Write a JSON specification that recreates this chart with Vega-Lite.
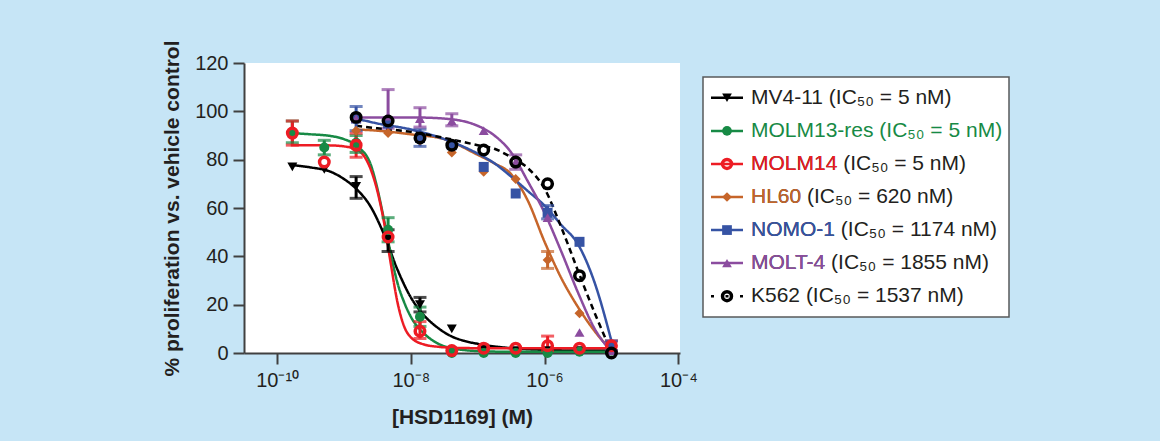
{
  "$schema": "https://vega.github.io/schema/vega-lite/v6.json",
  "background": "#c6e5f6",
  "padding": {"left": 161, "top": 39, "right": 200, "bottom": 40},
  "config": {
    "font": "Liberation Sans",
    "view": {"stroke": null},
    "axis": {"grid": false, "domainColor": "#404040", "domainWidth": 2, "tickColor": "#404040", "tickWidth": 2, "tickSize": 11, "labelFontSize": 20, "labelColor": "#231f20", "titleFontSize": 21, "titleFontWeight": "bold", "titleColor": "#231f20", "labelFont": "Liberation Sans", "titleFont": "Liberation Sans"}
  },
  "datasets": {
    "pts": [
      {"line": "MV4-11", "c": 1.69e-10, "v": 77},
      {"line": "MV4-11", "c": 5.08e-10, "v": 76},
      {"line": "MV4-11", "c": 1.52e-9, "v": 69, "lo": 64, "hi": 73},
      {"line": "MV4-11", "c": 4.57e-9, "v": 47, "lo": 42, "hi": 51},
      {"line": "MV4-11", "c": 1.37e-8, "v": 20, "lo": 17, "hi": 23},
      {"line": "MV4-11", "c": 4.1e-8, "v": 10},
      {"line": "MV4-11", "c": 1.23e-7, "v": 2},
      {"line": "MV4-11", "c": 3.7e-7, "v": 1},
      {"line": "MV4-11", "c": 1.11e-6, "v": 1},
      {"line": "MV4-11", "c": 3.33e-6, "v": 1},
      {"line": "MV4-11", "c": 1e-5, "v": 1},
      {"line": "MOLM13-res", "c": 1.69e-10, "v": 91, "lo": 87, "hi": 96},
      {"line": "MOLM13-res", "c": 5.08e-10, "v": 85, "lo": 82, "hi": 88},
      {"line": "MOLM13-res", "c": 1.52e-9, "v": 87, "lo": 83, "hi": 90},
      {"line": "MOLM13-res", "c": 4.57e-9, "v": 51, "lo": 46, "hi": 56},
      {"line": "MOLM13-res", "c": 1.37e-8, "v": 15, "lo": 11, "hi": 19},
      {"line": "MOLM13-res", "c": 4.1e-8, "v": 0},
      {"line": "MOLM13-res", "c": 1.23e-7, "v": 0},
      {"line": "MOLM13-res", "c": 3.7e-7, "v": 0},
      {"line": "MOLM13-res", "c": 1.11e-6, "v": 0},
      {"line": "MOLM13-res", "c": 3.33e-6, "v": 0.5},
      {"line": "MOLM13-res", "c": 1e-5, "v": 1},
      {"line": "MOLM14", "c": 1.69e-10, "v": 91, "lo": 86, "hi": 96},
      {"line": "MOLM14", "c": 5.08e-10, "v": 79},
      {"line": "MOLM14", "c": 1.52e-9, "v": 86, "lo": 81, "hi": 91},
      {"line": "MOLM14", "c": 4.57e-9, "v": 48},
      {"line": "MOLM14", "c": 1.37e-8, "v": 9, "lo": 6, "hi": 13},
      {"line": "MOLM14", "c": 4.1e-8, "v": 1},
      {"line": "MOLM14", "c": 1.23e-7, "v": 2},
      {"line": "MOLM14", "c": 3.7e-7, "v": 2},
      {"line": "MOLM14", "c": 1.11e-6, "v": 3, "lo": 1, "hi": 7},
      {"line": "MOLM14", "c": 3.33e-6, "v": 2},
      {"line": "MOLM14", "c": 1e-5, "v": 3, "lo": 1, "hi": 5},
      {"line": "HL60", "c": 1.52e-9, "v": 92},
      {"line": "HL60", "c": 4.57e-9, "v": 91},
      {"line": "HL60", "c": 1.37e-8, "v": 88},
      {"line": "HL60", "c": 4.1e-8, "v": 83},
      {"line": "HL60", "c": 1.23e-7, "v": 75},
      {"line": "HL60", "c": 3.7e-7, "v": 72},
      {"line": "HL60", "c": 1.11e-6, "v": 38.5, "lo": 35, "hi": 42},
      {"line": "HL60", "c": 3.33e-6, "v": 16.5},
      {"line": "HL60", "c": 1e-5, "v": 1},
      {"line": "NOMO-1", "c": 1.52e-9, "v": 97, "lo": 92, "hi": 102},
      {"line": "NOMO-1", "c": 4.57e-9, "v": 95},
      {"line": "NOMO-1", "c": 1.37e-8, "v": 89, "lo": 85.5, "hi": 92.6},
      {"line": "NOMO-1", "c": 4.1e-8, "v": 86},
      {"line": "NOMO-1", "c": 1.23e-7, "v": 77},
      {"line": "NOMO-1", "c": 3.7e-7, "v": 66},
      {"line": "NOMO-1", "c": 1.11e-6, "v": 58, "lo": 55.5, "hi": 61},
      {"line": "NOMO-1", "c": 3.33e-6, "v": 46},
      {"line": "NOMO-1", "c": 1e-5, "v": 3, "lo": 1, "hi": 5},
      {"line": "MOLT-4", "c": 1.52e-9, "v": 97},
      {"line": "MOLT-4", "c": 4.57e-9, "v": 98, "lo": 93, "hi": 109},
      {"line": "MOLT-4", "c": 1.37e-8, "v": 97, "lo": 93.5, "hi": 101.5},
      {"line": "MOLT-4", "c": 4.1e-8, "v": 96, "lo": 94, "hi": 99},
      {"line": "MOLT-4", "c": 1.23e-7, "v": 92},
      {"line": "MOLT-4", "c": 3.7e-7, "v": 79, "lo": 76, "hi": 82},
      {"line": "MOLT-4", "c": 1.11e-6, "v": 56},
      {"line": "MOLT-4", "c": 3.33e-6, "v": 8.5},
      {"line": "MOLT-4", "c": 1e-5, "v": 1},
      {"line": "K562", "c": 1.52e-9, "v": 97.5},
      {"line": "K562", "c": 4.57e-9, "v": 96},
      {"line": "K562", "c": 1.37e-8, "v": 89},
      {"line": "K562", "c": 4.1e-8, "v": 86},
      {"line": "K562", "c": 1.23e-7, "v": 84},
      {"line": "K562", "c": 3.7e-7, "v": 79},
      {"line": "K562", "c": 1.11e-6, "v": 70},
      {"line": "K562", "c": 3.33e-6, "v": 32},
      {"line": "K562", "c": 1e-5, "v": 0}
    ],
    "curves": [
      {"line": "MV4-11", "c": 1.6e-10, "v": 77.8},
      {"line": "MV4-11", "c": 3.162e-10, "v": 76.8},
      {"line": "MV4-11", "c": 6.31e-10, "v": 75},
      {"line": "MV4-11", "c": 1e-9, "v": 72},
      {"line": "MV4-11", "c": 1.585e-9, "v": 67.5},
      {"line": "MV4-11", "c": 2.512e-9, "v": 60.5},
      {"line": "MV4-11", "c": 3.981e-9, "v": 49},
      {"line": "MV4-11", "c": 6.31e-9, "v": 34.5},
      {"line": "MV4-11", "c": 1e-8, "v": 23},
      {"line": "MV4-11", "c": 1.585e-8, "v": 15.5},
      {"line": "MV4-11", "c": 2.512e-8, "v": 10.5},
      {"line": "MV4-11", "c": 3.981e-8, "v": 7},
      {"line": "MV4-11", "c": 6.31e-8, "v": 5},
      {"line": "MV4-11", "c": 1e-7, "v": 3.8},
      {"line": "MV4-11", "c": 3.162e-7, "v": 2},
      {"line": "MV4-11", "c": 1e-6, "v": 1.3},
      {"line": "MV4-11", "c": 3.162e-6, "v": 1},
      {"line": "MV4-11", "c": 1e-5, "v": 1},
      {"line": "MOLM13-res", "c": 1.6e-10, "v": 91},
      {"line": "MOLM13-res", "c": 3.162e-10, "v": 90.5},
      {"line": "MOLM13-res", "c": 6.31e-10, "v": 89.8},
      {"line": "MOLM13-res", "c": 1e-9, "v": 88.5},
      {"line": "MOLM13-res", "c": 1.585e-9, "v": 85.5},
      {"line": "MOLM13-res", "c": 2.512e-9, "v": 78},
      {"line": "MOLM13-res", "c": 3.162e-9, "v": 68},
      {"line": "MOLM13-res", "c": 3.981e-9, "v": 55},
      {"line": "MOLM13-res", "c": 5.012e-9, "v": 41},
      {"line": "MOLM13-res", "c": 6.31e-9, "v": 29},
      {"line": "MOLM13-res", "c": 7.943e-9, "v": 21},
      {"line": "MOLM13-res", "c": 1e-8, "v": 15},
      {"line": "MOLM13-res", "c": 1.585e-8, "v": 8},
      {"line": "MOLM13-res", "c": 2.512e-8, "v": 4},
      {"line": "MOLM13-res", "c": 3.981e-8, "v": 2},
      {"line": "MOLM13-res", "c": 6.31e-8, "v": 1.2},
      {"line": "MOLM13-res", "c": 1e-7, "v": 0.8},
      {"line": "MOLM13-res", "c": 3.162e-7, "v": 0.5},
      {"line": "MOLM13-res", "c": 1e-6, "v": 0.5},
      {"line": "MOLM13-res", "c": 1e-5, "v": 0.5},
      {"line": "MOLM14", "c": 1.6e-10, "v": 86},
      {"line": "MOLM14", "c": 3.162e-10, "v": 86},
      {"line": "MOLM14", "c": 6.31e-10, "v": 85.9},
      {"line": "MOLM14", "c": 1e-9, "v": 85.5},
      {"line": "MOLM14", "c": 1.585e-9, "v": 84},
      {"line": "MOLM14", "c": 1.995e-9, "v": 81.5},
      {"line": "MOLM14", "c": 2.512e-9, "v": 76},
      {"line": "MOLM14", "c": 3.162e-9, "v": 67},
      {"line": "MOLM14", "c": 3.981e-9, "v": 54},
      {"line": "MOLM14", "c": 5.012e-9, "v": 37},
      {"line": "MOLM14", "c": 6.31e-9, "v": 21},
      {"line": "MOLM14", "c": 7.943e-9, "v": 11},
      {"line": "MOLM14", "c": 1e-8, "v": 6.5},
      {"line": "MOLM14", "c": 1.585e-8, "v": 3.5},
      {"line": "MOLM14", "c": 2.512e-8, "v": 2.6},
      {"line": "MOLM14", "c": 3.981e-8, "v": 2.2},
      {"line": "MOLM14", "c": 1e-7, "v": 2},
      {"line": "MOLM14", "c": 1e-5, "v": 2},
      {"line": "HL60", "c": 1.52e-9, "v": 92.5},
      {"line": "HL60", "c": 3.162e-9, "v": 92},
      {"line": "HL60", "c": 1e-8, "v": 90.5},
      {"line": "HL60", "c": 3.162e-8, "v": 88.5},
      {"line": "HL60", "c": 1e-7, "v": 82},
      {"line": "HL60", "c": 1.778e-7, "v": 78.5},
      {"line": "HL60", "c": 3.162e-7, "v": 74},
      {"line": "HL60", "c": 5.623e-7, "v": 63},
      {"line": "HL60", "c": 1e-6, "v": 46},
      {"line": "HL60", "c": 1.778e-6, "v": 31},
      {"line": "HL60", "c": 3.162e-6, "v": 19},
      {"line": "HL60", "c": 5.623e-6, "v": 9},
      {"line": "HL60", "c": 1e-5, "v": 1},
      {"line": "NOMO-1", "c": 1.52e-9, "v": 97},
      {"line": "NOMO-1", "c": 3.162e-9, "v": 95},
      {"line": "NOMO-1", "c": 1e-8, "v": 92.5},
      {"line": "NOMO-1", "c": 3.162e-8, "v": 88.5},
      {"line": "NOMO-1", "c": 1e-7, "v": 82.5},
      {"line": "NOMO-1", "c": 1.778e-7, "v": 78.5},
      {"line": "NOMO-1", "c": 3.162e-7, "v": 73},
      {"line": "NOMO-1", "c": 5.623e-7, "v": 67},
      {"line": "NOMO-1", "c": 1e-6, "v": 61},
      {"line": "NOMO-1", "c": 1.778e-6, "v": 53},
      {"line": "NOMO-1", "c": 3.162e-6, "v": 45},
      {"line": "NOMO-1", "c": 5.623e-6, "v": 29},
      {"line": "NOMO-1", "c": 1e-5, "v": 5},
      {"line": "MOLT-4", "c": 1.52e-9, "v": 97.5},
      {"line": "MOLT-4", "c": 3.162e-9, "v": 97.5},
      {"line": "MOLT-4", "c": 1e-8, "v": 97.5},
      {"line": "MOLT-4", "c": 3.162e-8, "v": 97},
      {"line": "MOLT-4", "c": 1e-7, "v": 94},
      {"line": "MOLT-4", "c": 1.778e-7, "v": 90},
      {"line": "MOLT-4", "c": 3.162e-7, "v": 83},
      {"line": "MOLT-4", "c": 5.623e-7, "v": 71},
      {"line": "MOLT-4", "c": 1e-6, "v": 58},
      {"line": "MOLT-4", "c": 1.778e-6, "v": 42},
      {"line": "MOLT-4", "c": 3.162e-6, "v": 25},
      {"line": "MOLT-4", "c": 5.623e-6, "v": 10},
      {"line": "MOLT-4", "c": 1e-5, "v": 0.5},
      {"line": "K562", "c": 1.52e-9, "v": 94},
      {"line": "K562", "c": 3.162e-9, "v": 93},
      {"line": "K562", "c": 1e-8, "v": 91.5},
      {"line": "K562", "c": 3.162e-8, "v": 89},
      {"line": "K562", "c": 1e-7, "v": 86},
      {"line": "K562", "c": 1.778e-7, "v": 84.5},
      {"line": "K562", "c": 3.162e-7, "v": 81},
      {"line": "K562", "c": 5.623e-7, "v": 76.5},
      {"line": "K562", "c": 1e-6, "v": 68},
      {"line": "K562", "c": 1.778e-6, "v": 52},
      {"line": "K562", "c": 3.162e-6, "v": 34},
      {"line": "K562", "c": 5.623e-6, "v": 16.5},
      {"line": "K562", "c": 1e-5, "v": 0.5}
    ],
    "legend": [
      {"line": "MV4-11", "label": "MV4-11 (IC\u2085\u2080 = 5 nM)"},
      {"line": "MOLM13-res", "label": "MOLM13-res (IC\u2085\u2080 = 5 nM)"},
      {"line": "MOLM14", "label": "MOLM14 (IC\u2085\u2080 = 5 nM)"},
      {"line": "HL60", "label": "HL60 (IC\u2085\u2080 = 620 nM)"},
      {"line": "NOMO-1", "label": "NOMO-1 (IC\u2085\u2080 = 1174 nM)"},
      {"line": "MOLT-4", "label": "MOLT-4 (IC\u2085\u2080 = 1855 nM)"},
      {"line": "K562", "label": "K562 (IC\u2085\u2080 = 1537 nM)"}
    ]
  },
  "spacing": 4,
  "resolve": {"scale": {"x": "independent", "y": "independent", "color": "independent", "shape": "independent", "strokeDash": "independent"}},
  "hconcat": [
    {
      "width": 436,
      "height": 290,
      "view": {"fill": "white", "stroke": null},
      "layer": [
        {
          "data": {"name": "curves"},
          "mark": {"type": "line", "strokeWidth": 2.5, "interpolate": "monotone"},
          "encoding": {
            "x": {"field": "c", "type": "quantitative", "title": "[HSD1169] (M)", "scale": {"type": "log", "domain": [3.2e-11, 1.06e-4], "nice": false},
              "axis": {"values": [1e-10, 1e-8, 1e-6, 1e-4], "labelExpr": "datum.value < 1e-9 ? '10\u207b\u00b9\u2070' : datum.value < 1e-7 ? '10\u207b\u2078' : datum.value < 1e-5 ? '10\u207b\u2076' : '10\u207b\u2074'", "labelPadding": 6, "titlePadding": 16, "labelFlush": false}},
            "y": {"field": "v", "type": "quantitative", "title": "% proliferation vs. vehicle control", "scale": {"domain": [0, 120], "nice": false},
              "axis": {"values": [0, 20, 40, 60, 80, 100, 120], "labelPadding": 5, "titlePadding": 12}},
            "color": {"field": "line", "type": "nominal", "legend": null,
              "scale": {"domain": ["MV4-11", "MOLM13-res", "MOLM14", "HL60", "NOMO-1", "MOLT-4", "K562"], "range": ["#000000", "#178a45", "#ed1c24", "#c6652a", "#3653a4", "#8b4c9f", "#000000"]}},
            "strokeDash": {"field": "line", "type": "nominal", "legend": null,
              "scale": {"domain": ["MV4-11", "MOLM13-res", "MOLM14", "HL60", "NOMO-1", "MOLT-4", "K562"], "range": [[1, 0], [1, 0], [1, 0], [1, 0], [1, 0], [1, 0], [6, 4]]}},
            "detail": {"field": "line"}
          }
        },
        {
          "data": {"name": "pts"},
          "transform": [{"filter": "isValid(datum.lo)"}],
          "mark": {"type": "rule", "strokeWidth": 3},
          "encoding": {
            "x": {"field": "c", "type": "quantitative", "scale": {"type": "log", "domain": [3.2e-11, 1.06e-4], "nice": false}, "title": "[HSD1169] (M)"},
            "y": {"field": "lo", "type": "quantitative", "scale": {"domain": [0, 120], "nice": false}, "title": "% proliferation vs. vehicle control"},
            "y2": {"field": "hi"},
            "color": {"field": "line", "type": "nominal", "legend": null}
          }
        },
        {
          "data": {"name": "pts"},
          "transform": [{"filter": "isValid(datum.lo)"}, {"fold": ["lo", "hi"], "as": ["end", "ev"]}],
          "mark": {"type": "tick", "orient": "horizontal", "size": 13, "thickness": 3},
          "encoding": {
            "x": {"field": "c", "type": "quantitative", "scale": {"type": "log", "domain": [3.2e-11, 1.06e-4], "nice": false}, "title": "[HSD1169] (M)"},
            "y": {"field": "ev", "type": "quantitative", "scale": {"domain": [0, 120], "nice": false}, "title": "% proliferation vs. vehicle control"},
            "color": {"field": "line", "type": "nominal", "legend": null}
          }
        },
        {
          "data": {"name": "pts"},
          "transform": [{"filter": "datum.line !== 'MOLM14' && datum.line !== 'K562'"}],
          "mark": {"type": "point", "filled": true, "opacity": 1, "size": 100},
          "encoding": {
            "x": {"field": "c", "type": "quantitative", "scale": {"type": "log", "domain": [3.2e-11, 1.06e-4], "nice": false}, "title": "[HSD1169] (M)"},
            "y": {"field": "v", "type": "quantitative", "scale": {"domain": [0, 120], "nice": false}, "title": "% proliferation vs. vehicle control"},
            "color": {"field": "line", "type": "nominal", "legend": null},
            "shape": {"field": "line", "type": "nominal", "legend": null,
              "scale": {"domain": ["MV4-11", "MOLM13-res", "HL60", "NOMO-1", "MOLT-4"], "range": ["triangle-down", "circle", "diamond", "square", "triangle-up"]}}
          }
        },
        {
          "data": {"name": "pts"},
          "transform": [{"filter": "datum.line === 'MOLM14' || datum.line === 'K562'"}],
          "mark": {"type": "point", "filled": false, "opacity": 1, "size": 90, "strokeWidth": 3.5, "shape": "circle"},
          "encoding": {
            "x": {"field": "c", "type": "quantitative", "scale": {"type": "log", "domain": [3.2e-11, 1.06e-4], "nice": false}, "title": "[HSD1169] (M)"},
            "y": {"field": "v", "type": "quantitative", "scale": {"domain": [0, 120], "nice": false}, "title": "% proliferation vs. vehicle control"},
            "color": {"field": "line", "type": "nominal", "legend": null}
          }
        }
      ]
    },
    {
      "spacing": 0,
      "vconcat": [
        {
          "width": 306,
          "height": 13,
          "data": {"values": [{"a": 0}]},
          "mark": {"type": "point", "opacity": 0},
          "encoding": {}
        },
        {
          "width": 306,
          "height": 240,
          "view": {"fill": "white", "stroke": "#58595b", "strokeWidth": 1.5},
          "data": {"name": "legend"},
          "encoding": {
            "y": {"field": "line", "type": "nominal", "axis": null,
              "scale": {"type": "point", "padding": 0.63, "domain": ["MV4-11", "MOLM13-res", "MOLM14", "HL60", "NOMO-1", "MOLT-4", "K562"]}}
          },
          "layer": [
            {
              "mark": {"type": "rule", "strokeWidth": 2.5},
              "encoding": {
                "x": {"datum": 8, "type": "quantitative", "scale": {"domain": [0, 306], "nice": false}, "axis": null},
                "x2": {"datum": 40},
                "color": {"field": "line", "type": "nominal", "legend": null,
                  "scale": {"domain": ["MV4-11", "MOLM13-res", "MOLM14", "HL60", "NOMO-1", "MOLT-4", "K562"], "range": ["#000000", "#178a45", "#ed1c24", "#c6652a", "#3653a4", "#8b4c9f", "#000000"]}},
                "strokeDash": {"field": "line", "type": "nominal", "legend": null,
                  "scale": {"domain": ["MV4-11", "MOLM13-res", "MOLM14", "HL60", "NOMO-1", "MOLT-4", "K562"], "range": [[1, 0], [1, 0], [1, 0], [1, 0], [1, 0], [1, 0], [3, 11.5]]}}
              }
            },
            {
              "transform": [{"filter": "datum.line !== 'MOLM14' && datum.line !== 'K562'"}],
              "mark": {"type": "point", "filled": true, "opacity": 1, "size": 95},
              "encoding": {
                "x": {"datum": 24, "type": "quantitative", "scale": {"domain": [0, 306], "nice": false}, "axis": null},
                "color": {"field": "line", "type": "nominal", "legend": null},
                "shape": {"field": "line", "type": "nominal", "legend": null,
                  "scale": {"domain": ["MV4-11", "MOLM13-res", "HL60", "NOMO-1", "MOLT-4"], "range": ["triangle-down", "circle", "diamond", "square", "triangle-up"]}}
              }
            },
            {
              "transform": [{"filter": "datum.line === 'MOLM14' || datum.line === 'K562'"}],
              "mark": {"type": "point", "filled": false, "opacity": 1, "size": 80, "strokeWidth": 3.5, "shape": "circle"},
              "encoding": {
                "x": {"datum": 24, "type": "quantitative", "scale": {"domain": [0, 306], "nice": false}, "axis": null},
                "color": {"field": "line", "type": "nominal", "legend": null}
              }
            },
            {
              "mark": {"type": "text", "align": "left", "baseline": "middle", "fontSize": 21, "font": "Liberation Sans"},
              "encoding": {
                "x": {"datum": 48, "type": "quantitative", "scale": {"domain": [0, 306], "nice": false}, "axis": null},
                "text": {"field": "label"},
                "color": {"condition": {"test": "datum.line === 'MOLM13-res'", "value": "#178a45"}, "value": "#231f20"}
              }
            },
            {
              "transform": [{"filter": "datum.line === 'MOLM14' || datum.line === 'HL60' || datum.line === 'NOMO-1' || datum.line === 'MOLT-4'"}],
              "mark": {"type": "text", "align": "left", "baseline": "middle", "fontSize": 21, "font": "Liberation Sans"},
              "encoding": {
                "x": {"datum": 48, "type": "quantitative", "scale": {"domain": [0, 306], "nice": false}, "axis": null},
                "text": {"field": "line"},
                "color": {"field": "line", "type": "nominal", "legend": null}
              }
            }
          ]
        }
      ]
    }
  ]
}
